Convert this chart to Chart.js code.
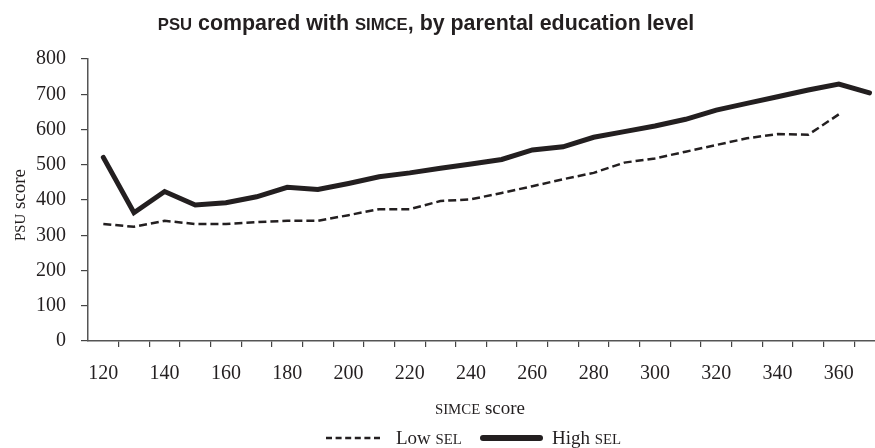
<!DOCTYPE html>
<html><head><meta charset="utf-8">
<script src="https://cdn.jsdelivr.net/npm/chart.js@4.4.1/dist/chart.umd.min.js"></script>
<style>html,body{margin:0;padding:0;background:#fff;}#wrap{width:875px;height:448px;}</style>
</head><body><div id="wrap"><canvas id="c" width="875" height="448"></canvas></div>
<script>
// ---- data ----
const simceScores = [120,130,140,150,160,170,180,190,200,210,220,230,240,250,260,270,280,290,300,310,320,330,340,350,360,370];
const lowSEL  = [332,324,341,332,332,337,341,341,357,374,374,397,402,420,439,459,477,506,518,537,556,575,587,585,643,null];
const highSEL = [521,364,424,386,392,409,436,430,447,466,477,490,502,515,542,551,578,594,610,629,655,674,693,712,729,704];
const yTickValues = [0,100,200,300,400,500,600,700,800];
const xTickLabels = [120,140,160,180,200,220,240,260,280,300,320,340,360];
const titleParts = [['PSU',true],[' compared with ',false],['SIMCE',true],[', by parental education level',false]];
const yTitleParts = [['PSU',true],[' score',false]];
const xTitleParts = [['SIMCE',true],[' score',false]];
const lowLabelParts = [['Low ',false],['SEL',true]];
const highLabelParts = [['High ',false],['SEL',true]];

const INK = '#231f20';
const SERIF = '"Liberation Serif", "Times New Roman", serif';
const SANS = '"Liberation Sans", Arial, sans-serif';

function toPoints(vals){
  const out = [];
  simceScores.forEach((x,i)=>{ if (vals[i] !== null && vals[i] !== undefined) out.push({x:x, y:vals[i]}); });
  return out;
}

function drawMixed(ctx, parts, x, y, align, size, family, weight, capScale){
  const segs = parts.map(([t,caps]) => ({
    text: caps ? t.toUpperCase() : t,
    font: (weight||'normal') + ' ' + (caps ? size*capScale : size) + 'px ' + family
  }));
  let total = 0;
  segs.forEach(s => { ctx.font = s.font; s.w = ctx.measureText(s.text).width; total += s.w; });
  let cx = align === 'center' ? x - total/2 : (align === 'right' ? x - total : x);
  ctx.textAlign = 'left';
  ctx.textBaseline = 'alphabetic';
  segs.forEach(s => { ctx.font = s.font; ctx.fillText(s.text, cx, y); cx += s.w; });
  return total;
}

const textPlugin = {
  id: 'textPlugin',
  afterDraw(chart){
    const ctx = chart.ctx;
    ctx.save();
    ctx.fillStyle = INK;
    // title
    drawMixed(ctx, titleParts, 426, 30, 'center', 21.4, SANS, 'bold', 0.78);
    // x axis title
    drawMixed(ctx, xTitleParts, 480, 414, 'center', 19, SERIF, 'normal', 0.78);
    // y axis title
    ctx.save();
    ctx.translate(25, 205);
    ctx.rotate(-Math.PI/2);
    drawMixed(ctx, yTitleParts, 0, 0, 'center', 19, SERIF, 'normal', 0.78);
    ctx.restore();
    // legend
    const ly = 438;
    ctx.strokeStyle = INK;
    ctx.lineWidth = 2.5;
    ctx.setLineDash([6,3.6]);
    ctx.beginPath(); ctx.moveTo(326, ly); ctx.lineTo(383, ly); ctx.stroke();
    ctx.setLineDash([]);
    drawMixed(ctx, lowLabelParts, 396, ly+6, 'left', 19, SERIF, 'normal', 0.78);
    ctx.lineWidth = 6;
    ctx.lineCap = 'round';
    ctx.beginPath(); ctx.moveTo(483, ly); ctx.lineTo(540, ly); ctx.stroke();
    drawMixed(ctx, highLabelParts, 552, ly+6, 'left', 19, SERIF, 'normal', 0.78);
    ctx.restore();
  }
};

new Chart(document.getElementById('c'), {
  type: 'line',
  data: {
    datasets: [
      { label: 'Low SEL', data: toPoints(lowSEL), borderColor: INK, borderWidth: 2.5,
        borderDash: [8,4], pointRadius: 0, tension: 0, fill: false },
      { label: 'High SEL', data: toPoints(highSEL), borderColor: INK, borderWidth: 5,
        pointRadius: 0, tension: 0, fill: false, borderCapStyle: 'round', borderJoinStyle: 'miter' }
    ]
  },
  options: {
    responsive: false,
    animation: false,
    devicePixelRatio: 1,
    layout: { padding: { top: 59, left: 0, right: 0, bottom: 0 } },
    plugins: { legend: { display: false }, title: { display: false }, tooltip: { enabled: false } },
    scales: {
      x: {
        type: 'linear', min: 115, max: 371.8,
        afterBuildTicks: s => { const t = []; for (let v = 115; v <= 370; v += 5) t.push({ value: v }); s.ticks = t; },
        afterFit: s => { s.height = 107; },
        ticks: { autoSkip: false, maxRotation: 0, minRotation: 0, padding: 0, color: INK,
          font: { family: SERIF, size: 20, lineHeight: 2.7 },
          callback: v => xTickLabels.includes(v) ? String(v) : '' },
        grid: { drawOnChartArea: false, drawTicks: true, tickLength: 6, lineWidth: 1.2,
          color: c => (c.tick && c.tick.value % 10 === 5 && c.tick.value > 115) ? '#444' : 'rgba(0,0,0,0)' },
        border: { display: true, color: '#555', width: 1.5 }
      },
      y: {
        type: 'linear', min: 0, max: 800,
        afterBuildTicks: s => { s.ticks = yTickValues.map(v => ({ value: v })); },
        afterFit: s => { s.width = 88; },
        ticks: { padding: 15, color: INK, font: { family: SERIF, size: 20 } },
        grid: { drawOnChartArea: false, drawTicks: true, tickLength: 7, lineWidth: 1.2, color: '#444' },
        border: { display: true, color: '#555', width: 1.5 }
      }
    }
  },
  plugins: [textPlugin]
});
</script>
</body></html>
